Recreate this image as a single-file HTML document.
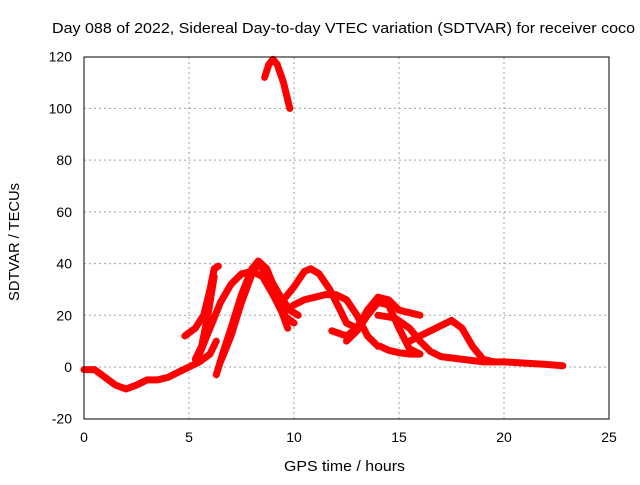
<!DOCTYPE html>
<html><head><meta charset="utf-8"><style>
body{margin:0;background:#fff}
svg text{font-family:"Liberation Sans",sans-serif;font-size:13px;fill:#000}
</style></head><body>
<svg width="640" height="480" id="c">
<text x="52" y="33" textLength="583" lengthAdjust="spacingAndGlyphs" style="font-size:15px">Day 088 of 2022, Sidereal Day-to-day VTEC variation (SDTVAR) for receiver coco</text>
<text x="284" y="471" textLength="121" lengthAdjust="spacingAndGlyphs" style="font-size:15px">GPS time / hours</text>
<text transform="translate(19,301) rotate(-90)" textLength="118" lengthAdjust="spacingAndGlyphs" style="font-size:15px">SDTVAR / TECUs</text>
<g id="grid"></g><g id="marks"></g>
<rect x="84" y="57" width="525" height="362" fill="none" stroke="#000"/>
</svg>
<script>
const xTicks=[0,5,10,15,20,25];
const yTicks=[-20,0,20,40,60,80,100,120];
const sTop=[[8.6,112],[8.8,117],[9,119],[9.2,117],[9.5,110],[9.8,100]];
const sA=[[0,-1],[0.5,-1],[1,-4],[1.5,-7],[2,-8.5],[2.5,-7],[3,-5],[3.5,-5],[4,-4],[4.5,-2],[5,0],[5.5,2],[6,5],[6.3,10]];
const sB=[[4.8,12],[5.3,15],[5.7,20],[6,30],[6.2,38],[6.4,39]];
const sB2=[[5.3,3],[5.6,8],[5.9,20],[6.2,35]];
const sC=[[5.5,5],[6,15],[6.5,25],[7,32],[7.5,36],[8,37],[8.5,35],[9,28],[9.5,20],[10,17]];
const sD=[[6.3,-3],[6.6,5],[7,15],[7.5,28],[8,38],[8.3,41],[8.7,38],[9,32],[9.3,24],[9.7,15]];
const sE=[[6.5,2],[7,12],[7.5,25],[8,36],[8.3,40],[8.8,35],[9.3,28],[9.8,22],[10.2,20]];
const sF=[[9.2,25],[9.6,27],[10,31],[10.5,37],[10.8,38],[11.2,36],[11.7,30],[12.2,22],[12.5,17],[13,15]];
const sG=[[9.5,21],[10,24],[10.5,26],[11,27],[11.5,28],[12,28],[12.5,26],[13,20],[13.5,12],[14,8]];
const sH=[[11.8,14],[12.5,12],[13,15],[13.5,22],[14,27],[14.5,26],[15,22],[15.5,21],[16,20]];
const sI=[[12.5,10],[13,14],[13.5,20],[14,25],[14.5,24],[15,15],[15.5,7],[16,5]];
const sJ=[[14.1,8],[14.5,6.5],[15,5.5],[15.5,5],[16,5]];
const sK=[[15.5,10],[16,12],[16.5,14],[17,16],[17.5,18],[18,15],[18.5,8],[19,3],[19.5,2]];
const sL=[[14,20],[14.8,19],[15.5,15],[16,10],[16.5,6],[17,4],[18,3],[19,2],[20,2],[21,1.5],[22,1],[22.8,0.5]];
const series=[sTop,sA,sB,sB2,sC,sD,sE,sF,sG,sH,sI,sJ,sK,sL];
const X=v=>84+v*21, Y=v=>367-v*(362/140);
const NS="http://www.w3.org/2000/svg";
const grid=document.getElementById('grid'), marks=document.getElementById('marks');
function mk(t,a,p){const e=document.createElementNS(NS,t);for(const k in a)e.setAttribute(k,a[k]);p.appendChild(e);return e;}
xTicks.forEach(t=>{
 if(t>0&&t<25){const l=mk('line',{x1:X(t),x2:X(t),y1:57,y2:419,stroke:'#a0a0a0','stroke-dasharray':'2,3'},grid);
 
 }
 const tx=mk('text',{x:X(t),y:442,'text-anchor':'middle',style:'font-size:14px'},grid);tx.textContent=t;
 
 
});
yTicks.forEach(t=>{
 if(t>-20&&t<120){const l=mk('line',{x1:84,x2:609,y1:Y(t),y2:Y(t),stroke:'#a0a0a0','stroke-dasharray':'2,3'},grid);
 
 }
 const tx=mk('text',{x:72,y:Y(t)+5,'text-anchor':'end',style:'font-size:14px'},grid);tx.textContent=t;
 
 
});
series.forEach(s=>{
 const p=mk('polyline',{points:s.map(d=>X(d[0])+','+Y(d[1])).join(' '),fill:'none',stroke:'#f00','stroke-width':7,'stroke-linejoin':'round','stroke-linecap':'round'},marks);
 
 
});
</script>
</body></html>
